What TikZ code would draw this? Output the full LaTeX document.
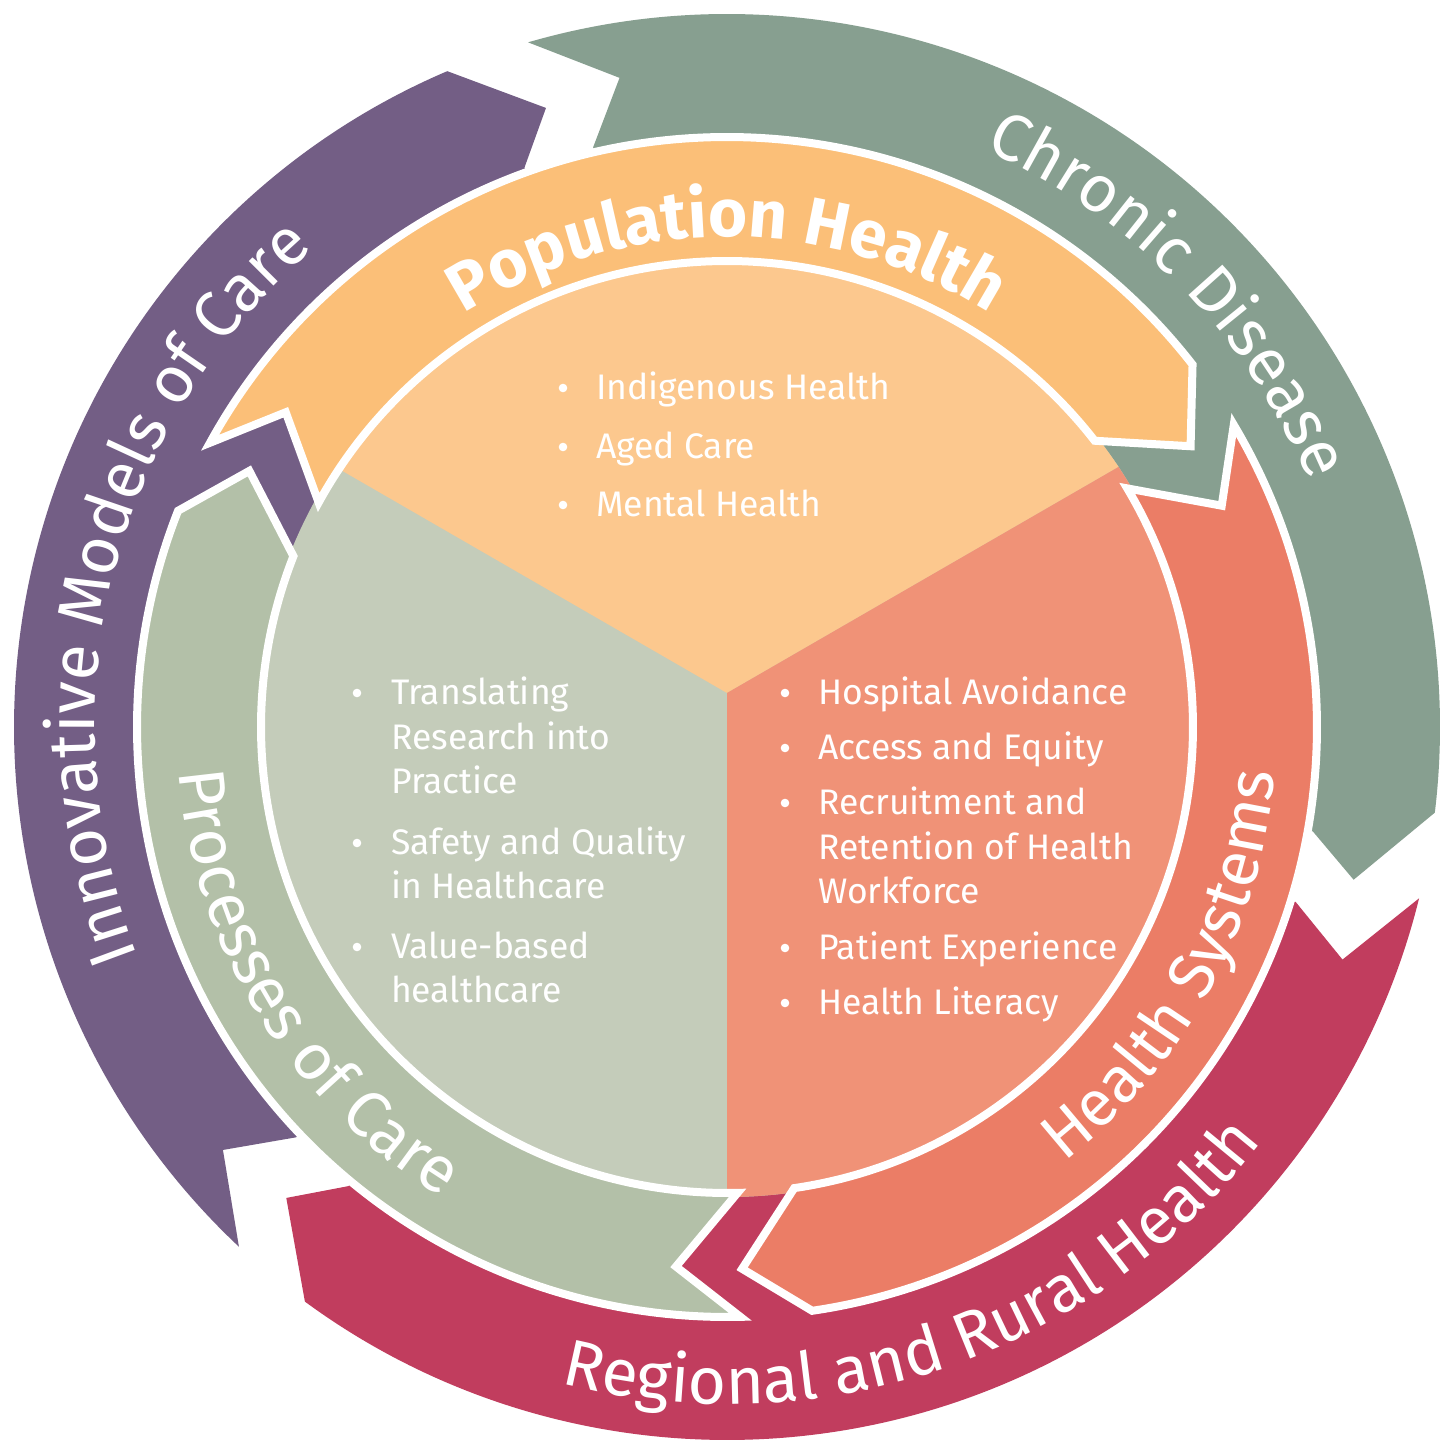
\documentclass[tikz,border=0pt]{standalone}
\usepackage{fontspec}
\setmainfont{Fira Sans}
\usetikzlibrary{decorations.text}
\definecolor{cPurple}{HTML}{735E85}
\definecolor{cChronic}{HTML}{879F90}
\definecolor{cCrimson}{HTML}{C13D5E}
\definecolor{cOrange}{HTML}{FBBF78}
\definecolor{cProc}{HTML}{B3C0A8}
\definecolor{cHealthSys}{HTML}{EB7D66}
\definecolor{pieOrange}{HTML}{FCC88E}
\definecolor{pieGreen}{HTML}{C4CCBA}
\definecolor{pieSalmon}{HTML}{F09277}
\newcommand\rfontOuter{\fontsize{66}{70}\selectfont}
\newcommand\rfontInner{\fontsize{65}{70}\selectfont}
\newcommand\rfontTop{\fontsize{67}{72}\selectfont\bfseries}
\begin{document}
\begin{tikzpicture}[x=1pt,y=1pt,
  innerarrow/.style={fill=#1, draw=white, line width=8pt, line join=miter},
  ringtext/.style={decorate, decoration={text along path, text align=center, text color=white, text={#1}}},
  listtext/.style={font=\fontsize{35.5}{44.5}\selectfont, text=white, inner sep=0pt, anchor=base west},
  bulletdot/.style={fill=white}]
% background / bounding box
\fill[white] (-727,-718) rectangle (716,727);
\useasboundingbox (-727,-718) rectangle (716,727);

% outer ring arrows (extended to centre)
\fill[cPurple] (226.8:713) arc[start angle=226.8, end angle=113.1, radius=713] -- (106.3:645) -- (109.9:595) -- (0,0) -- (223.6:595) -- (220.0:658) -- cycle;
\fill[cChronic] (106.2:713) arc[start angle=106.2, end angle=-6.9, radius=713] -- (-13.7:645) -- (-10.1:595) -- (0,0) -- (103.0:595) -- (99.4:658) -- cycle;
\fill[cCrimson] (-13.9:713) arc[start angle=-13.9, end angle=-126.3, radius=713] -- (-133.1:645) -- (-129.5:595) -- (0,0) -- (-17.1:595) -- (-20.7:658) -- cycle;

% pie
\begin{scope}
\clip (0,0) circle[radius=470];
\fill[pieGreen] (-480,-480) rectangle (480,480);
\fill[pieOrange] (0,34) -- (866,534) -- (-866,534) -- cycle;
\fill[pieSalmon] (0,34) -- (866,534) -- (866,-600) -- (0,-600) -- cycle;
\end{scope}

% inner ring arrows
\path[innerarrow=cOrange] (151.2:590) arc[start angle=151.2, end angle=37.9, radius=590] -- (31.2:542) -- (37.9:466) arc[start angle=37.9, end angle=151.2, radius=466] -- (144.5:542) -- cycle;
\path[innerarrow=cHealthSys] (30.8:590) arc[start angle=30.8, end angle=-81.7, radius=590] -- (-88.4:542) -- (-81.7:466) arc[start angle=-81.7, end angle=30.8, radius=466] -- (24.1:542) -- cycle;
\path[innerarrow=cProc] (-88.7:590) arc[start angle=-88.7, end angle=-201.5, radius=590] -- (-208.2:542) -- (-201.5:466) arc[start angle=-201.5, end angle=-88.7, radius=466] -- (-95.4:542) -- cycle;

% ring titles
\path[ringtext={|\rfontTop|Population Health}] (160:490) arc[start angle=160, end angle=20, radius=490];
\path[ringtext={|\rfontOuter|Chronic Disease}] (114.4:632) arc[start angle=114.4, end angle=-25.6, radius=632];
\path[ringtext={|\rfontOuter|Innovative Models of Care}] (236:632) arc[start angle=236, end angle=96, radius=632];
\path[ringtext={|\rfontOuter|Regional and Rural Health}] (219:677) arc[start angle=219, end angle=359, radius=677];
\path[ringtext={|\rfontInner|Processes of Care}] (141.7:550) arc[start angle=141.7, end angle=281.7, radius=550];
\path[ringtext={|\rfontInner|Health Systems}] (261.5:550) arc[start angle=261.5, end angle=401.5, radius=550];

% top list
\fill[bulletdot] (-164,339) circle[radius=4.3];
\fill[bulletdot] (-164,280) circle[radius=4.3];
\fill[bulletdot] (-164,222) circle[radius=4.3];
\node[listtext] (pop1) at (-131,327.5) {Indigenous Health};
\node[listtext] (pop2) at (-131,268.5) {Aged Care};
\node[listtext] (pop3) at (-131,210.5) {Mental Health};

% left list
\fill[bulletdot] (-370,34) circle[radius=4.3];
\fill[bulletdot] (-370,-116) circle[radius=4.3];
\fill[bulletdot] (-370,-220) circle[radius=4.3];
\node[listtext] (proc1a) at (-336,22.5) {Translating};
\node[listtext] (proc1b) at (-336,-22) {Research into};
\node[listtext] (proc1c) at (-336,-66.5) {Practice};
\node[listtext] (proc2a) at (-336,-127) {Safety and Quality};
\node[listtext] (proc2b) at (-336,-171.5) {in Healthcare};
\node[listtext] (proc3a) at (-336,-231) {Value-based};
\node[listtext] (proc3b) at (-336,-275.5) {healthcare};

% right list
\fill[bulletdot] (58,34) circle[radius=4.3];
\fill[bulletdot] (58,-21) circle[radius=4.3];
\fill[bulletdot] (58,-76) circle[radius=4.3];
\fill[bulletdot] (58,-221) circle[radius=4.3];
\fill[bulletdot] (58,-276) circle[radius=4.3];
\node[listtext] (hs1) at (91,22.5) {Hospital Avoidance};
\node[listtext] (hs2) at (91,-32.5) {Access and Equity};
\node[listtext] (hs3a) at (91,-87.5) {Recruitment and};
\node[listtext] (hs3b) at (91,-132) {Retention of Health};
\node[listtext] (hs3c) at (91,-176.5) {Workforce};
\node[listtext] (hs4) at (91,-232) {Patient Experience};
\node[listtext] (hs5) at (91,-287) {Health Literacy};
\end{tikzpicture}
\end{document}
